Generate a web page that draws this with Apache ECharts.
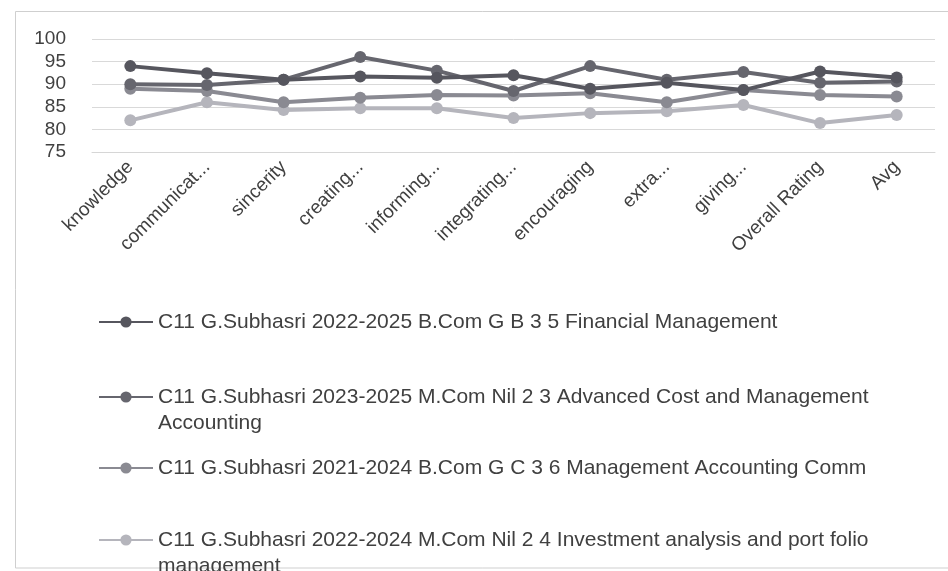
<!DOCTYPE html>
<html>
<head>
<meta charset="utf-8">
<script src="https://cdn.jsdelivr.net/npm/echarts@6/dist/echarts.min.js"></script>
<style>html,body{margin:0;padding:0;background:#fff}#c{width:948px;height:571px}</style>
</head>
<body>
<div id="c"></div>
<script>
const categories = ['knowledge', 'communicat...', 'sincerity', 'creating...', 'informing...', 'integrating...', 'encouraging', 'extra...', 'giving...', 'Overall Rating', 'Avg'];
const seriesNames = [
  'C11 G.Subhasri 2022-2025 B.Com G B 3 5 Financial Management',
  'C11 G.Subhasri 2023-2025 M.Com Nil 2 3 Advanced Cost and Management Accounting',
  'C11 G.Subhasri 2021-2024 B.Com G C 3 6 Management Accounting Comm',
  'C11 G.Subhasri 2022-2024 M.Com Nil 2 4 Investment analysis and port folio management'
];
const legendLines = [
  'C11 G.Subhasri 2022-2025 B.Com G B 3 5 Financial Management',
  'C11 G.Subhasri 2023-2025 M.Com Nil 2 3 Advanced Cost and Management\nAccounting',
  'C11 G.Subhasri 2021-2024 B.Com G C 3 6 Management Accounting Comm',
  'C11 G.Subhasri 2022-2024 M.Com Nil 2 4 Investment analysis and port folio\nmanagement'
];
const s1 = [94, 92.4, 91, 91.7, 91.4, 92, 89, 90.3, 88.7, 92.8, 91.5];
const s2 = [90, 89.8, 91, 96, 93, 88.5, 94, 91, 92.7, 90.3, 90.6];
const s3 = [89, 88.5, 86, 87, 87.6, 87.5, 88, 86, 88.7, 87.6, 87.3];
const s4 = [82, 86, 84.3, 84.7, 84.7, 82.5, 83.6, 84, 85.4, 81.4, 83.2];
const yTicks = [75, 80, 85, 90, 95, 100];

const colors = ['#56565e', '#66666e', '#8a8a92', '#b5b5bc'];
const values = [s1, s2, s3, s4];
const FONT = '"Liberation Sans", Arial, sans-serif';
const legendTops = [309, 358, 455, 501];

const chart = echarts.init(document.getElementById('c'), null, {renderer: 'canvas'});
const option = {
  backgroundColor: '#ffffff',
  animation: false,
  graphic: [{
    type: 'rect', silent: true, z: -10,
    shape: {x: 15.5, y: 11.5, width: 960, height: 556.5},
    style: {fill: 'none', stroke: '#cfcfcf', lineWidth: 1}
  }],
  grid: {left: 92, right: 13, top: 39, bottom: 419},
  xAxis: {
    type: 'category',
    data: categories,
    boundaryGap: true,
    axisLine: {show: true, lineStyle: {color: '#d6d6d6', width: 1}},
    axisTick: {show: false},
    axisLabel: {interval: 0, rotate: 45, fontSize: 19, color: '#404040', fontFamily: FONT, margin: 12}
  },
  yAxis: {
    type: 'value',
    min: yTicks[0], max: yTicks[yTicks.length - 1], interval: 5,
    axisLine: {show: false},
    axisTick: {show: false},
    splitLine: {lineStyle: {color: '#d9d9d9', width: 1}},
    axisLabel: {fontSize: 19, color: '#404040', fontFamily: FONT, margin: 26}
  },
  legend: seriesNames.map((n, i) => ({
    data: [n],
    orient: 'vertical',
    left: 98,
    top: legendTops[i],
    padding: 0,
    itemWidth: 54,
    itemHeight: 14,
    selectedMode: false,
    formatter: () => (legendLines[i].indexOf('\n') >= 0 ? '\n' : '') + legendLines[i],
    textStyle: {fontSize: 21, lineHeight: 26, color: '#404040', fontFamily: FONT}
  })),
  series: seriesNames.map((n, i) => ({
    name: n,
    type: 'line',
    data: values[i],
    symbol: 'circle',
    symbolSize: 12,
    color: colors[i],
    lineStyle: {width: 4, color: colors[i]},
    itemStyle: {color: colors[i]},
    z: 10 - i
  }))
};
chart.setOption(option);
</script>
</body>
</html>
